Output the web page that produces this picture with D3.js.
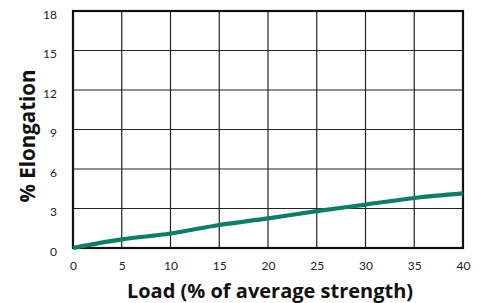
<!DOCTYPE html>
<html>
<head>
<meta charset="utf-8">
<script src="https://cdn.jsdelivr.net/npm/d3@7"></script>
<style>
  body { margin: 0; background: #fff; }
  svg { display: block; font-family: "Open Sans", sans-serif; }
</style>
</head>
<body>
<div id="chart"></div>
<script>
// дані
var loadValues = [0, 5, 10, 15, 20, 25, 30, 35, 40];
var elongationValues = [0, 0.65, 1.1, 1.75, 2.25, 2.8, 3.3, 3.8, 4.15];
var xTicks = [0, 5, 10, 15, 20, 25, 30, 35, 40];
var yTicks = [0, 3, 6, 9, 12, 15, 18];

var width = 482, height = 303;
var margin = {top: 11, right: 19, bottom: 55, left: 73};
var innerW = width - margin.left - margin.right,
    innerH = height - margin.top - margin.bottom;

var svg = d3.select("#chart").append("svg")
    .attr("width", width)
    .attr("height", height);

var g = svg.append("g")
    .attr("transform", "translate(" + margin.left + "," + margin.top + ")");

var x = d3.scaleLinear().domain([0, 40]).range([0, innerW]);
var y = d3.scaleLinear().domain([0, 18]).range([innerH, 0]);

// сітка
g.selectAll(".vgrid").data(xTicks).enter().append("line")
    .attr("x1", function(d) { return x(d); })
    .attr("x2", function(d) { return x(d); })
    .attr("y1", 0).attr("y2", innerH)
    .attr("stroke", "#222").attr("stroke-width", 1.2);

g.selectAll(".hgrid").data(yTicks).enter().append("line")
    .attr("y1", function(d) { return y(d); })
    .attr("y2", function(d) { return y(d); })
    .attr("x1", 0).attr("x2", innerW)
    .attr("stroke", "#222").attr("stroke-width", 1.2);

// рамка
g.append("rect")
    .attr("x", 0).attr("y", 0)
    .attr("width", innerW).attr("height", innerH)
    .attr("fill", "none")
    .attr("stroke", "#111").attr("stroke-width", 2.2);

// осі
var xAxis = g.append("g")
    .attr("transform", "translate(0," + innerH + ")")
    .call(d3.axisBottom(x).tickValues(xTicks).tickSize(0).tickPadding(13));
xAxis.select(".domain").remove();
xAxis.selectAll("text")
    .style("font-size", "12px").style("font-family", "Lato, sans-serif")
    .attr("fill", "#222");

var yAxis = g.append("g")
    .call(d3.axisLeft(y).tickValues(yTicks).tickSize(0).tickPadding(16));
yAxis.select(".domain").remove();
yAxis.selectAll("text")
    .style("font-size", "12px").style("font-family", "Lato, sans-serif")
    .attr("fill", "#222")
    .attr("dy", "0.6em");

// лінія
var line = d3.line()
    .x(function(d, i) { return x(loadValues[i]); })
    .y(function(d) { return y(d); })
    .curve(d3.curveMonotoneX);

g.append("path")
    .datum(elongationValues)
    .attr("d", line)
    .attr("fill", "none")
    .attr("stroke", "#0b7e66")
    .attr("stroke-width", 4.2)
    .attr("stroke-linecap", "butt");

// підписи осей
svg.append("text")
    .attr("x", 270).attr("y", 298)
    .attr("text-anchor", "middle")
    .style("font-size", "20px").style("font-weight", "bold")
    .attr("fill", "#111")
    .text("Load (% of average strength)");

svg.append("text")
    .attr("transform", "translate(35,136) rotate(-90)")
    .attr("text-anchor", "middle")
    .style("font-size", "20.5px").style("font-weight", "bold")
    .attr("fill", "#111")
    .text("% Elongation");
</script>
</body>
</html>
